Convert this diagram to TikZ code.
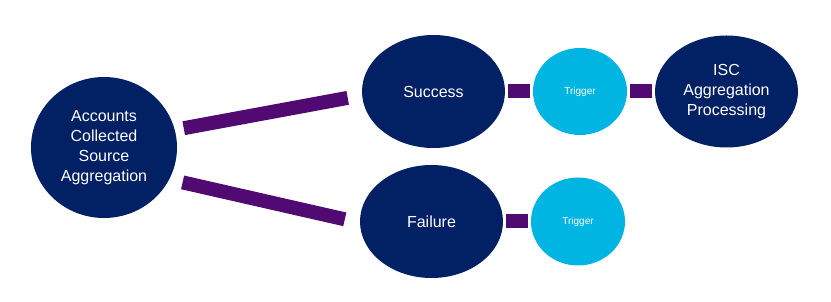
\documentclass[tikz,border=0pt]{standalone}
\usepackage{fontspec}
\setmainfont{Liberation Sans}
\usepackage{xcolor}
\usetikzlibrary{shapes.geometric}
\definecolor{navy}{HTML}{022064}
\definecolor{skyblue}{HTML}{00B5E2}
\definecolor{linkpurple}{HTML}{520A73}

\begin{document}
\begin{tikzpicture}[x=1pt,y=1pt]
	\tikzset{big/.style={ellipse, fill=navy, text=white, inner sep=0pt, minimum width=143pt, minimum height=113pt, align=center, font=\fontsize{16}{20}\selectfont},
		trig/.style={ellipse, fill=skyblue, text=white, inner sep=0pt, minimum width=94pt, minimum height=87pt, font=\fontsize{10}{12}\selectfont},
		bar/.style={draw=linkpurple, line width=14pt}}
	\useasboundingbox (0,0) rectangle (831,302);
	% source and outcomes
	\node[big, minimum width=146pt, minimum height=141pt] (acc) at (104,154.5) {Accounts\\Collected\\Source\\Aggregation};
	\node[big] (succ) at (433.5,210.5) {Success};
	\node[trig] (trig1) at (580,210.5) {Trigger};
	\node[big, minimum height=112pt] (isc) at (726.5,210.5) {ISC\\Aggregation\\Processing};
	\node[big] (fail) at (431.5,80.5) {Failure};
	\node[trig, minimum height=88pt] (trig2) at (578,80.5) {Trigger};
	
	% links
	\draw[bar, shorten <=9pt, shorten >=14.5pt] (acc.14.5) -- (succ.183);
	\draw[bar, shorten <=13.6pt, shorten >=15.4pt] (acc.-26.9) -- (fail.181.7);
	\draw[bar, shorten <=3pt, shorten >=3pt] (succ.east) -- (trig1.west);
	\draw[bar, shorten <=3pt, shorten >=3pt] (trig1.east) -- (isc.west);
	\draw[bar, shorten <=3pt, shorten >=3pt] (fail.east) -- (trig2.west);
\end{tikzpicture}
\end{document}
